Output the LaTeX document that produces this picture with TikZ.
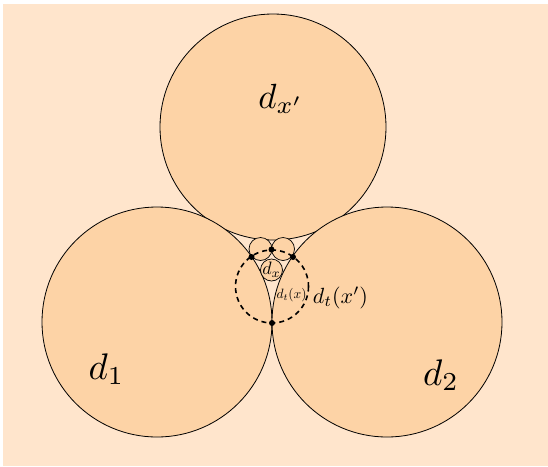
\documentclass[tikz,border=0pt]{standalone}
\usepackage{amsmath}
\usepackage{tikz}
\usetikzlibrary{positioning}

\definecolor{bgpeach}{RGB}{255,229,204}
\definecolor{discpeach}{RGB}{253,211,166}

\begin{document}
\begin{tikzpicture}[
  x=1pt, y=-1pt,
  disc/.style={draw, fill=discpeach, line width=0.8pt},
  small/.style={draw, fill=discpeach, line width=0.7pt},
  ring/.style={draw, dashed, line width=1.6pt, dash pattern=on 5pt off 4pt},
  dot/.style={circle, fill=black, inner sep=0pt, minimum size=6pt},
  lbl/.style={font=\fontsize{10}{12}\selectfont, inner sep=0pt, transform shape, scale=#1},
]
\useasboundingbox (0,0) rectangle (548,466);
\fill[bgpeach] (3,4) rectangle (548,466);

% --- Big discs ---
\coordinate (ctop) at (273,127);
\coordinate (cleft) at (157,322);
\coordinate (cright) at (387,322);
\draw[disc] (ctop) circle (113);
\draw[disc] (cleft) circle (115);
\draw[disc] (cright) circle (115);

% --- Small discs in the gap ---
\draw[small] (260.5,249) circle (11.5);
\draw[small] (283,249) circle (11.5);
\draw[small] (271.5,270) circle (11);

% --- Dashed ring ---
\coordinate (cring) at (272,286.5);
\draw[ring] (cring) circle (36.5);

% --- Contact points ---
\node[dot] (pl) at (251.5,257) {};
\node[dot] (pm) at (271.5,249.5) {};
\node[dot] (pr) at (293,257) {};
\node[dot] (pb) at (272,323) {};

% --- Labels ---
\node[lbl=3.5] (lxp) at (281,99) {$d_{x'}$};
\node[lbl=3.7] (l1) at (106.5,369) {$d_1$};
\node[lbl=3.7] (l2) at (441,375) {$d_2$};
\node[lbl=1.8] (lx) at (271.5,270) {$d_x$};
\node[lbl=1.35] (ltx) at (291.5,295) {$d_t(x)$};
\node[lbl=2.2] (ltxp) at (340.5,298) {$d_t(x')$};
\end{tikzpicture}
\end{document}
